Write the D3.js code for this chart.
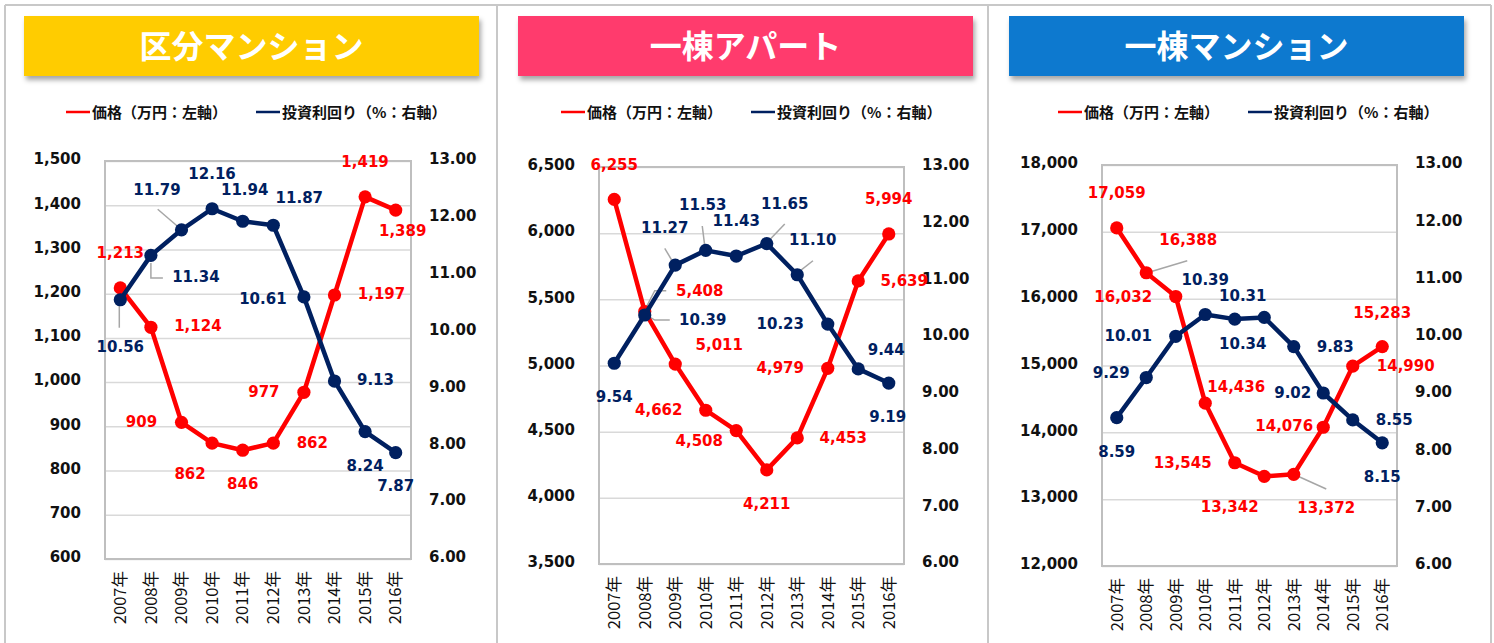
<!DOCTYPE html>
<html><head><meta charset="utf-8">
<script src="https://cdn.jsdelivr.net/npm/d3@7"></script>
<style>body{margin:0;background:#fff;} svg{display:block}</style>
</head><body><svg id="c" width="1494" height="643"></svg>
<script>
// ---------- data ----------
const categories = ["2007年","2008年","2009年","2010年","2011年","2012年","2013年","2014年","2015年","2016年"];
const panelTitles = ["区分マンション","一棟アパート","一棟マンション"];
const legendLabels = ["価格（万円：左軸）","投資利回り（%：右軸）"];

const priceKubun   = [1213,1124,909,862,846,862,977,1197,1419,1389];
const yieldKubun   = [10.56,11.34,11.79,12.16,11.94,11.87,10.61,9.13,8.24,7.87];
const priceApart   = [6255,5408,5011,4662,4508,4211,4453,4979,5639,5994];
const yieldApart   = [9.54,10.39,11.27,11.53,11.43,11.65,11.10,10.23,9.44,9.19];
const priceMansion = [17059,16388,16032,14436,13545,13342,13372,14076,14990,15283];
const yieldMansion = [8.59,9.29,10.01,10.39,10.31,10.34,9.83,9.02,8.55,8.15];

const leftTicksKubun   = [600,700,800,900,1000,1100,1200,1300,1400,1500];
const leftTicksApart   = [3500,4000,4500,5000,5500,6000,6500];
const leftTicksMansion = [12000,13000,14000,15000,16000,17000,18000];
const rightTicks       = [6,7,8,9,10,11,12,13];

// ---------- layout ----------
const RED = "#FF0000", NAVY = "#002060";
const panels = [
  { title: panelTitles[0], color: "#FFCC00", price: priceKubun, yld: yieldKubun, leftTicks: leftTicksKubun,
    box: {x: 24, y: 16, w: 455, h: 60}, plot: {l: 105, r: 411, t: 161, b: 559}, legend: {red: 66, navy: 256, y: 111},
    priceOff: [[0,-35],[47,-1],[-40,0],[-22,31],[0,34],[39,0],[-40,0],[47,-1],[0,-35],[7,21]],
    yieldOff: [[0,47],[45,22],[-24.5,-40],[0,-35],[2,-31],[26,-27],[-41,2],[41,-1],[0,34],[0,33]],
    leaders: [ {s: "y", i: 0, p: [[-1,3],[-1,28]]}, {s: "y", i: 1, p: [[0,7.6],[0,22.6],[12,22.6]]},
               {s: "y", i: 2, p: [[-23.8,-20.5],[-0.5,-0.5]]} ] },
  { title: panelTitles[1], color: "#FF3B6D", price: priceApart, yld: yieldApart, leftTicks: leftTicksApart,
    box: {x: 518, y: 16, w: 455, h: 60}, plot: {l: 599, r: 904, t: 167, b: 564}, legend: {red: 561, navy: 751, y: 111},
    priceOff: [[0,-34],[55,-21],[44,-19],[-47,0],[-37,10],[0,34],[46,0],[-47.5,0],[46,0],[0,-35]],
    yieldOff: [[0,34],[58,5],[-10.5,-37],[-3,-45],[0,-35],[18,-40],[15.5,-35],[-47.5,0],[28,-19],[-1,33.5]],
    leaders: [ {s: "p", i: 1, p: [[21.5,-20.8],[10,-20.8],[0,-1.5]]}, {s: "y", i: 1, p: [[25,5],[10,5],[0,-1]]},
               {s: "y", i: 2, p: [[-10.5,-16.8],[-1.2,-1.1]]}, {s: "y", i: 3, p: [[-3.5,-24.4],[-0.7,-2]]},
               {s: "y", i: 5, p: [[18,-19.6],[-0.4,-0.3]]}, {s: "y", i: 6, p: [[15.7,-14],[-1,-0.8]]} ] },
  { title: panelTitles[2], color: "#0A79CF", price: priceMansion, yld: yieldMansion, leftTicks: leftTicksMansion,
    box: {x: 1009, y: 16, w: 455, h: 60}, plot: {l: 1102, r: 1397, t: 165, b: 566}, legend: {red: 1058, navy: 1248, y: 111},
    priceOff: [[0,-34.5],[42,-33],[-52.5,0],[31,-16.5],[-52,0],[-34.5,31],[32.5,34],[-39,-1.5],[53,0],[0,-34]],
    yieldOff: [[0,34],[-35,-5],[-47.5,0],[0,-34.5],[8,-23.5],[-21.5,26.5],[41.5,0],[-30.5,0],[41.5,0],[0,34]],
    leaders: [ {s: "p", i: 1, p: [[41,-12],[1,0]]}, {s: "p", i: 6, p: [[-0.7,-0.3],[32.5,14.7]]} ] }
];

const NUMFONT = "'DejaVu Sans', Verdana, sans-serif";
const JPFONT = "'Noto Sans CJK JP', 'Noto Sans', sans-serif";
const svg = d3.select("#c");

// drop shadow filter
const defs = svg.append("defs");
const f = defs.append("filter").attr("id", "sh").attr("x", "-10%").attr("y", "-20%").attr("width", "120%").attr("height", "150%");
f.append("feDropShadow").attr("dx", 2).attr("dy", 4).attr("stdDeviation", 2.5).attr("flood-color", "#000").attr("flood-opacity", 0.35);

// frame
const frameColor = "#C8C8C8";
svg.append("line").attr("x1", 5).attr("x2", 1491).attr("y1", 5).attr("y2", 5).attr("stroke", frameColor).attr("stroke-width", 2);
[5, 497, 988, 1491].forEach(x => svg.append("line").attr("x1", x).attr("x2", x).attr("y1", 5).attr("y2", 643)
  .attr("stroke", frameColor).attr("stroke-width", 2));

const fmtP = d3.format(","), fmtY = d3.format(".2f");

panels.forEach(P => {
  const g = svg.append("g");
  // title box
  g.append("rect").attr("x", P.box.x).attr("y", P.box.y).attr("width", P.box.w).attr("height", P.box.h)
    .attr("fill", P.color).attr("filter", "url(#sh)");
  g.append("text").attr("x", P.box.x + P.box.w / 2).attr("y", P.box.y + P.box.h / 2 - 2)
    .attr("text-anchor", "middle").attr("dominant-baseline", "central")
    .attr("font-family", JPFONT).attr("font-weight", "bold").attr("font-size", 32).attr("fill", "#fff").text(P.title);

  // legend
  [[P.legend.red, RED, legendLabels[0]], [P.legend.navy, NAVY, legendLabels[1]]].forEach(([x, c, t]) => {
    g.append("line").attr("x1", x).attr("x2", x + 24).attr("y1", P.legend.y + 1).attr("y2", P.legend.y + 1)
      .attr("stroke", c).attr("stroke-width", 2.5);
    g.append("text").attr("x", x + 26).attr("y", P.legend.y).attr("dominant-baseline", "central")
      .attr("font-family", JPFONT).attr("font-weight", "bold").attr("font-size", 15).attr("fill", "#111").text(t);
  });

  const pl = P.plot;
  const x = d3.scaleBand().domain(categories).range([pl.l, pl.r]).padding(0);
  const yL = d3.scaleLinear().domain(d3.extent(P.leftTicks)).range([pl.b, pl.t]);
  const yR = d3.scaleLinear().domain(d3.extent(rightTicks)).range([pl.b, pl.t]);
  const cx = d => x(d) + x.bandwidth() / 2;

  // gridlines
  const grid = g.append("g").attr("transform", `translate(${pl.l},0)`)
    .call(d3.axisLeft(yL).tickValues(P.leftTicks).tickSize(-(pl.r - pl.l)).tickFormat(""));
  grid.select(".domain").remove();
  grid.selectAll("line").attr("stroke", "#D9D9D9").attr("stroke-width", 1.5);

  // plot border
  g.append("rect").attr("x", pl.l).attr("y", pl.t).attr("width", pl.r - pl.l).attr("height", pl.b - pl.t)
    .attr("fill", "none").attr("stroke", "#BFBFBF").attr("stroke-width", 2);

  // left axis
  const la = g.append("g").attr("transform", `translate(${pl.l - 24},0)`)
    .call(d3.axisLeft(yL).tickValues(P.leftTicks).tickSize(0).tickPadding(0).tickFormat(fmtP));
  la.select(".domain").remove();
  la.selectAll("text").attr("font-family", NUMFONT).attr("font-weight", "bold").attr("font-size", 15)
    .attr("fill", "#111").attr("dy", "0.32em").attr("y", -2);

  // right axis
  const ra = g.append("g").attr("transform", `translate(${pl.r + 18},0)`)
    .call(d3.axisRight(yR).tickValues(rightTicks).tickSize(0).tickPadding(0).tickFormat(fmtY));
  ra.select(".domain").remove();
  ra.selectAll("text").attr("font-family", NUMFONT).attr("font-weight", "bold").attr("font-size", 15)
    .attr("fill", "#111").attr("dy", "0.32em").attr("y", -2);

  // x axis
  const xa = g.append("g").attr("transform", `translate(0,${pl.b + 12})`)
    .call(d3.axisBottom(x).tickSize(0).tickPadding(0));
  xa.select(".domain").remove();
  xa.selectAll("text").attr("font-family", JPFONT).attr("font-size", 16.5).attr("fill", "#111")
    .attr("transform", "rotate(-90)").attr("text-anchor", "end").attr("dy", "0.35em").attr("x", 0).attr("y", 0);

  const pts = {
    p: P.price.map((v, i) => [cx(categories[i]), yL(v)]),
    y: P.yld.map((v, i) => [cx(categories[i]), yR(v)])
  };

  // leader lines
  P.leaders.forEach(L => {
    const [px, py] = pts[L.s][L.i];
    g.append("polyline").attr("points", L.p.map(([dx, dy]) => `${px + dx},${py + dy}`).join(" "))
      .attr("fill", "none").attr("stroke", "#A6A6A6").attr("stroke-width", 1.5);
  });

  const line = d3.line();
  [["p", RED], ["y", NAVY]].forEach(([k, c]) => {
    g.append("path").attr("d", line(pts[k])).attr("fill", "none").attr("stroke", c)
      .attr("stroke-width", 4.5).attr("stroke-linejoin", "round");
    g.selectAll(null).data(pts[k]).enter().append("circle")
      .attr("cx", d => d[0]).attr("cy", d => d[1]).attr("r", 6.6).attr("fill", c);
  });

  // data labels
  const lab = (k, vals, offs, c, fmt) => {
    g.selectAll(null).data(vals).enter().append("text")
      .attr("x", (d, i) => pts[k][i][0] + offs[i][0])
      .attr("y", (d, i) => pts[k][i][1] + offs[i][1])
      .attr("text-anchor", "middle").attr("dominant-baseline", "central")
      .attr("font-family", NUMFONT).attr("font-weight", "bold").attr("font-size", 15)
      .attr("fill", c).text(fmt);
  };
  lab("p", P.price, P.priceOff, RED, fmtP);
  lab("y", P.yld, P.yieldOff, NAVY, fmtY);
});
</script>
</body></html>
